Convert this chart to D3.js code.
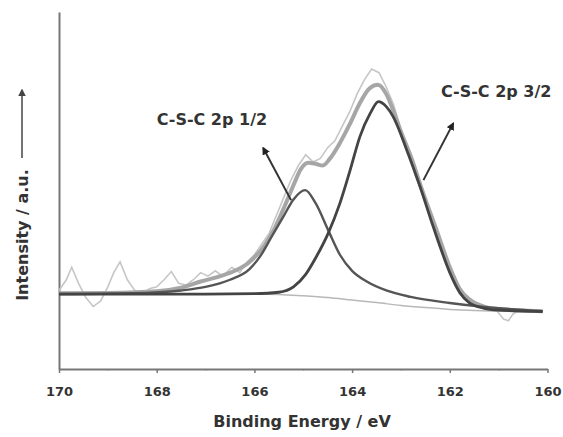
<!DOCTYPE html>
<html>
<head>
<meta charset="utf-8">
<script src="https://cdn.jsdelivr.net/npm/d3@7"></script>
<style>
  html, body { margin: 0; padding: 0; background: #fff; }
  svg { display: block; }
  text { font-family: "DejaVu Sans", Verdana, sans-serif; font-weight: bold; fill: #333; }
</style>
</head>
<body>
<svg id="chart" width="563" height="437"></svg>
<script>
// ---- data (binding energy in eV, intensity in arbitrary units) ----
const xTicks = [170, 168, 166, 164, 162, 160];
const xMinorTicks = [169, 167, 165, 163, 161];

const rawBE = [170.0,169.85,169.74,169.6,169.45,169.3,169.15,169.0,168.88,168.75,168.6,168.45,168.3,168.15,168.0,167.85,167.7,167.55,167.4,167.25,167.1,166.95,166.8,166.65,166.46,166.3,166.15,166.0,165.85,165.7,165.55,165.4,165.25,165.1,164.95,164.8,164.65,164.5,164.35,164.2,164.05,163.9,163.75,163.6,163.45,163.3,163.15,163.0,162.85,162.7,162.55,162.4,162.25,162.1,161.95,161.8,161.65,161.5,161.35,161.2,161.05,160.9,160.8,160.7,160.55,160.4,160.25,160.1];
const rawI  = [22,25,28.5,24,20,17.5,19,23,27,30,25,22,21,22.5,23,25,27.3,24,23.5,25,27,26,27.5,26,28.5,27,30,32,35,38,43,48,53,57,60,58,59,62,64,68,72,77,81,84,83,79,74,67,61,54,49,42,37,31,26,21,19,18,17.5,17,16.5,14,13.5,15.5,16.5,16,16.5,16];

const bgBE = [170, 166, 165.5, 165, 164.5, 164, 163.5, 163, 162.5, 162, 161.5, 160.1];
const bgI  = [21.0, 21.0, 20.9, 20.5, 20.0, 19.3, 18.6, 17.8, 17.2, 16.7, 16.4, 16.1];

const envBE = [170,169,168,167.5,167.1,166.7,166.4,166.1,165.8,165.6,165.4,165.2,165.05,164.9,164.75,164.6,164.45,164.25,164.05,163.84,163.65,163.47,163.3,163.16,163.0,162.81,162.55,162.26,162.0,161.8,161.6,161.3,161.0,160.5,160.1];
const envI  = [21.2,21.3,21.8,22.8,24.5,26.0,27.5,30.0,34.5,39.0,45.0,51.5,56.0,57.8,57.5,57.0,59.0,63.3,68.5,74.5,78.5,79.6,77.0,72.5,66.5,60.0,49.5,38.5,28.5,22.5,19.5,17.5,16.8,16.4,16.2];

const p12BE = [170,168.5,167.5,167.0,166.5,166.1,165.89,165.65,165.41,165.2,164.96,164.75,164.49,164.25,164.0,163.7,163.3,162.8,162.0,161.3,160.1];
const p12I  = [21.0,21.2,22.0,23.0,25.0,28.0,31.4,37.0,42.6,47.5,50.1,46.5,38.9,32.0,27.5,24.5,22.0,20.2,18.5,17.4,16.2];

const p32BE = [170,167,166,165.5,165.2,164.95,164.73,164.49,164.25,164.04,163.84,163.63,163.46,163.3,163.16,162.88,162.61,162.34,162.2,162.0,161.8,161.6,161.3,161.0,160.1];
const p32I  = [21.0,21.0,21.1,21.5,23.0,26.5,31.5,38.0,46.4,55.7,65.1,71.6,74.9,73.5,70.7,61.3,51.1,39.9,34.3,27.0,21.5,18.5,17.0,16.5,16.1];

const labels = ["C-S-C 2p 1/2", "C-S-C 2p 3/2"];
const labelBE = [166.87, 161.05];
const labelI  = [70.0, 77.6];
const arrowHeadBE = [165.82, 161.93];
const arrowHeadI  = [61.9, 68.8];
const arrowTailBE = [165.25, 162.54];
const arrowTailI  = [47.3, 52.9];

// ---- chart ----
const svg = d3.select("#chart");
const x = d3.scaleLinear().domain([170, 160]).range([59, 547.5]);
const y = d3.scaleLinear().domain([0, 100]).range([369, 12]);

const defs = svg.append("defs");
defs.append("marker").attr("id", "ah").attr("viewBox", "0 0 10 10")
  .attr("refX", 8).attr("refY", 5).attr("markerWidth", 4).attr("markerHeight", 4)
  .attr("orient", "auto")
  .append("path").attr("d", "M0,0L10,5L0,10Z").attr("fill", "#222");
defs.append("marker").attr("id", "ahy").attr("viewBox", "0 0 10 10")
  .attr("refX", 8).attr("refY", 5).attr("markerWidth", 5).attr("markerHeight", 5)
  .attr("orient", "auto")
  .append("path").attr("d", "M0,0L10,5L0,10Z").attr("fill", "#444");

const zip = (a, b) => a.map((v, i) => [v, b[i]]);
const line = d3.line().x(d => x(d[0])).y(d => y(d[1]));
const smooth = d3.line().x(d => x(d[0])).y(d => y(d[1])).curve(d3.curveMonotoneX);

// axes
const yAxis = svg.append("g").attr("transform", `translate(${x(170)},0)`)
  .call(d3.axisLeft(y).tickValues([]).tickSizeOuter(0));
yAxis.select(".domain").attr("stroke", "#777").attr("stroke-width", 2);

const xMinor = svg.append("g").attr("transform", `translate(0,${y(0)})`)
  .call(d3.axisBottom(x).tickValues(xMinorTicks).tickSize(2).tickFormat(""));
xMinor.select(".domain").remove();
xMinor.selectAll("line").attr("stroke", "#bbb");

const xAxis = svg.append("g").attr("transform", `translate(0,${y(0)})`)
  .call(d3.axisBottom(x).tickValues(xTicks).tickSize(4).tickSizeOuter(0).tickPadding(14).tickFormat(d3.format("d")));
xAxis.select(".domain").attr("stroke", "#777").attr("stroke-width", 2);
xAxis.selectAll(".tick line").attr("stroke", "#777").attr("stroke-width", 1.5);
xAxis.selectAll("text").style("font-size", "13px").style("font-family", "DejaVu Sans").style("font-weight", "bold").attr("fill", "#333");

// series
svg.append("path").datum(zip(rawBE, rawI)).attr("d", line)
  .attr("fill", "none").attr("stroke", "#c6c6c6").attr("stroke-width", 1.6);
svg.append("path").datum(zip(bgBE, bgI)).attr("d", smooth)
  .attr("fill", "none").attr("stroke", "#b8b8b8").attr("stroke-width", 1.5);
svg.append("path").datum(zip(envBE, envI)).attr("d", smooth)
  .attr("fill", "none").attr("stroke", "#a6a6a6").attr("stroke-width", 4);
svg.append("path").datum(zip(p12BE, p12I)).attr("d", smooth)
  .attr("fill", "none").attr("stroke", "#555").attr("stroke-width", 2.4);
svg.append("path").datum(zip(p32BE, p32I)).attr("d", smooth)
  .attr("fill", "none").attr("stroke", "#444").attr("stroke-width", 2.8);

// annotations
labels.forEach((t, i) => {
  svg.append("line")
    .attr("x1", x(arrowTailBE[i])).attr("y1", y(arrowTailI[i]))
    .attr("x2", x(arrowHeadBE[i])).attr("y2", y(arrowHeadI[i]))
    .attr("stroke", "#333").attr("stroke-width", 2).attr("marker-end", "url(#ah)");
  svg.append("text").attr("x", x(labelBE[i])).attr("y", y(labelI[i]))
    .attr("text-anchor", "middle").attr("dominant-baseline", "central")
    .style("font-size", "16px").text(t);
});

// axis titles
svg.append("text").attr("x", 302).attr("y", 427).attr("text-anchor", "middle")
  .style("font-size", "16px").text("Binding Energy / eV");
svg.append("text").attr("transform", "translate(28,235) rotate(-90)")
  .attr("text-anchor", "middle").style("font-size", "16px").text("Intensity / a.u.");
svg.append("line").attr("x1", 22).attr("y1", 158).attr("x2", 22).attr("y2", 90)
  .attr("stroke", "#444").attr("stroke-width", 1.5).attr("marker-end", "url(#ahy)");
</script>
</body>
</html>
